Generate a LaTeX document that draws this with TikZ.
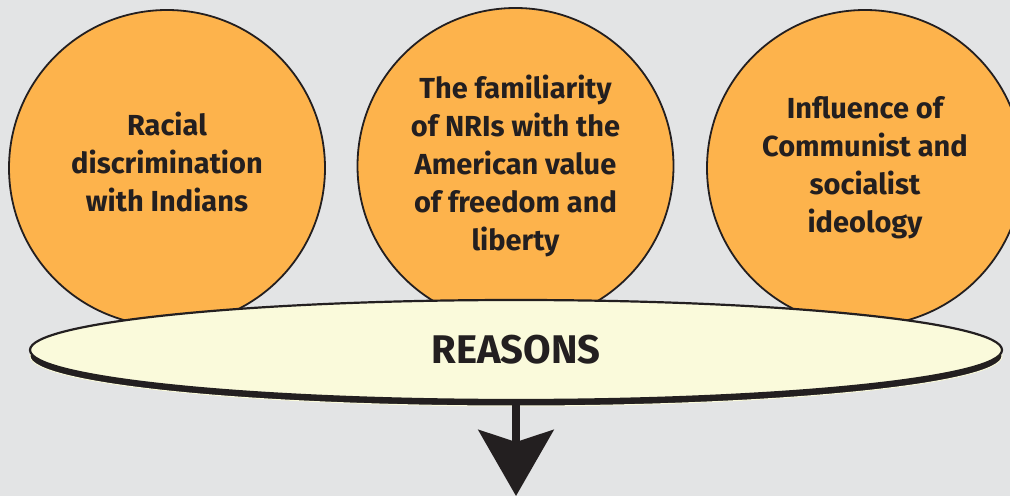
\documentclass[tikz,border=0pt]{standalone}
\usepackage{fontspec}
\setmainfont{Fira Sans}
\usepackage{tikz}
\usetikzlibrary{shapes.geometric,shadows,arrows.meta}

\definecolor{bgGray}{HTML}{E3E4E5}
\definecolor{reasonOrange}{HTML}{FDB34C}
\definecolor{reasonCream}{HTML}{FAFADB}
\definecolor{inkDark}{HTML}{231F20}

\tikzset{
  reason/.style={circle, draw=inkDark, line width=1.8pt, fill=reasonOrange,
    minimum size=316pt, inner sep=0pt, align=center, text=inkDark,
    font=\fontsize{29}{38}\selectfont\bfseries},
  banner/.style={ellipse, draw=inkDark, line width=2.2pt, fill=reasonCream,
    minimum width=972pt, minimum height=100pt, inner sep=0pt, text=inkDark,
    font=\fontsize{40}{42}\selectfont\bfseries,
    drop shadow={shadow xshift=0pt, shadow yshift=-6pt, fill=inkDark,
      opacity=1, draw=reasonCream, line width=1pt}}
}

\begin{document}
\begin{tikzpicture}[x=1pt, y=1pt]

\useasboundingbox [fill=bgGray] (0,0) rectangle (1010,496);

\node (racial) at (167, 328) [reason] {Racial\\discrimination\\with Indians\\[-26pt]\mbox{}};

\node (freedom) at (515.5, 330) [reason] {The familiarity\\of NRIs with the\\American value\\of freedom and\\liberty};

\node (ideology) at (865, 328) [reason] {Influence of\\Communist and\\socialist\\ideology};

\node (reasons) at (516, 146) [banner] {REASONS};

\coordinate (tip) at (516, 0);

\draw [line width=8pt, draw=inkDark,
  -{Stealth[length=66pt 0, width=75pt 0, inset=12pt 0, fill=inkDark]}]
  (reasons.south) ++(0,-3) -- (tip);

\end{tikzpicture}
\end{document}
